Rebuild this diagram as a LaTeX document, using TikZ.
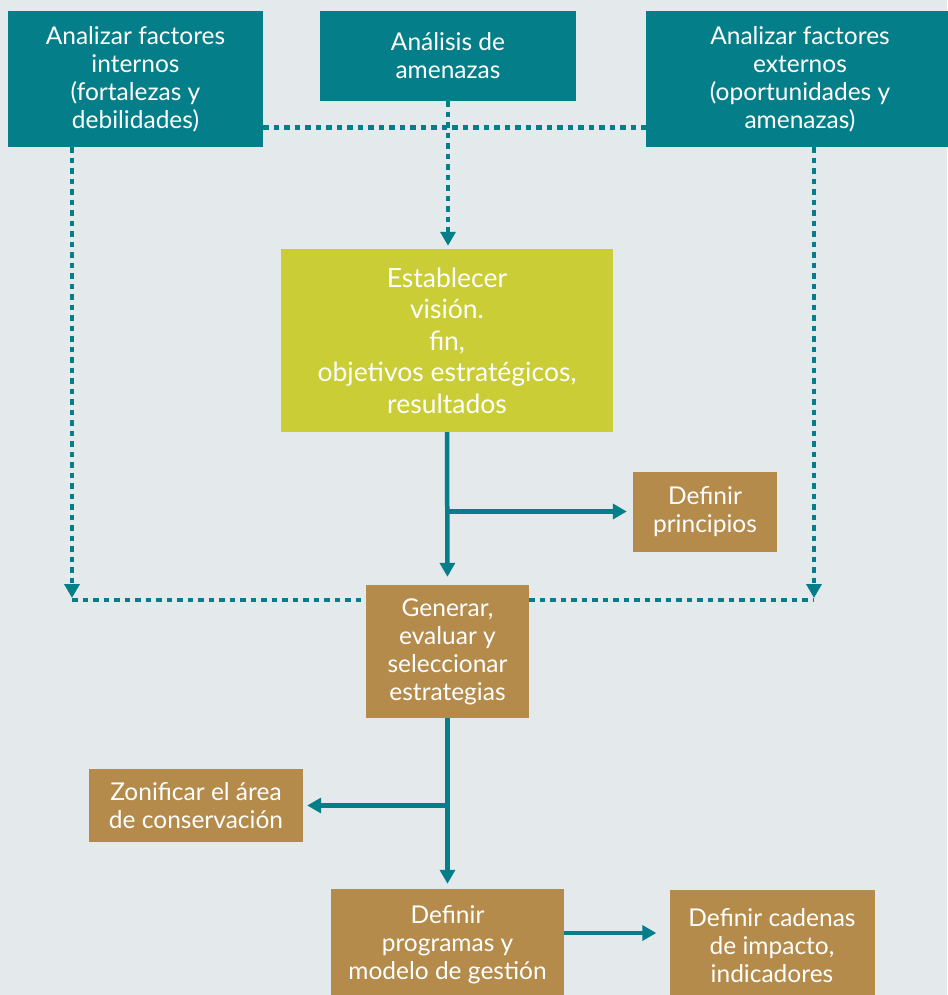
\documentclass[tikz,border=0pt]{standalone}
\usepackage{fontspec}
\setmainfont{Lato}
\usetikzlibrary{arrows.meta}
\definecolor{tealc}{HTML}{047F8A}
\definecolor{limec}{HTML}{CACD36}
\definecolor{brownc}{HTML}{B48B4A}
\definecolor{bgc}{HTML}{E4E9EC}

\begin{document}
\begin{tikzpicture}[
  x=1pt, y=-1pt,
  font=\fontsize{24.5}{28}\selectfont,
  box/.style={inner sep=0pt, align=center, text=white},
  tealbox/.style={box, fill=tealc},
  limebox/.style={box, fill=limec, font=\fontsize{26.5}{31.5}\selectfont},
  brownbox/.style={box, fill=brownc},
  arr/.style={draw=tealc, line width=4.5pt, -{Triangle[length=14pt, width=15pt]}},
  dotarr/.style={arr, dash pattern=on 5.5pt off 5pt},
  dotline/.style={draw=tealc, line width=4.5pt, dash pattern=on 5.5pt off 5pt},
]
  \fill[bgc] (0,0) rectangle (947,995);
  \useasboundingbox (0,0) rectangle (947,995);

  \node[tealbox, minimum width=255pt, minimum height=136pt] (int) at (135.5,79) {Analizar factores\\internos\\(fortalezas y\\debilidades)};
  \node[tealbox, minimum width=256pt, minimum height=90pt] (amen) at (448,56) {Análisis de\\amenazas};
  \node[tealbox, minimum width=308pt, minimum height=136pt] (ext) at (800,79) {Analizar factores\\externos\\(oportunidades y\\amenazas)};
  \node[limebox, minimum width=332pt, minimum height=183pt] (vis) at (447,340.5) {Establecer\\visión.\\fin,\\objetivos estratégicos,\\resultados};
  \node[brownbox, minimum width=144pt, minimum height=80pt] (princ) at (705,511.5) {Definir\\principios};
  \node[brownbox, minimum width=163pt, minimum height=133pt] (gen) at (447.5,651.5) {Generar,\\evaluar y\\seleccionar\\estrategias};
  \node[brownbox, minimum width=214pt, minimum height=73pt] (zon) at (196,805.5) {Zonificar el área\\de conservación};
  \node[brownbox, minimum width=233pt, minimum height=112pt] (prog) at (447.5,945) {Definir\\programas y\\modelo de gestión};
  \node[brownbox, minimum width=205pt, minimum height=112pt] (cad) at (772,946) {Definir cadenas\\de impacto,\\indicadores};

  \coordinate (jt) at (448,127.5);
  \coordinate (jl) at (72,600);
  \coordinate (jr) at (814,600);

  % dotted inputs
  \draw[dotline] (int.east |- jt) -- (ext.west |- jt);
  \draw[dotarr, shorten >=3pt] (amen.south) -- (amen.south |- vis.north);
  \foreach \j/\b in {jl/int, jr/ext} \draw[dotarr, shorten >=2pt] (\b.south -| \j) -- (\j);
  \draw[dotline] (jl) -- (gen.west |- jl);
  \draw[dotline] (gen.east |- jr) -- (jr);

  % main flow
  \draw[arr, shorten >=8pt] (vis.south) -- (gen.north);
  \coordinate (bp) at (vis.south |- princ.west);
  \draw[arr, shorten >=6pt] (bp) -- (princ.west);
  \draw[arr, shorten >=5pt] (gen.south) -- (prog.north);
  \coordinate (bz) at (gen.south |- zon.east);
  \draw[arr, shorten >=4pt] (bz) -- (zon.east);
  \draw[arr, shorten >=13pt] ([yshift=12pt]prog.east) -- ([yshift=12pt]prog.east -| cad.west);
\end{tikzpicture}
\end{document}
